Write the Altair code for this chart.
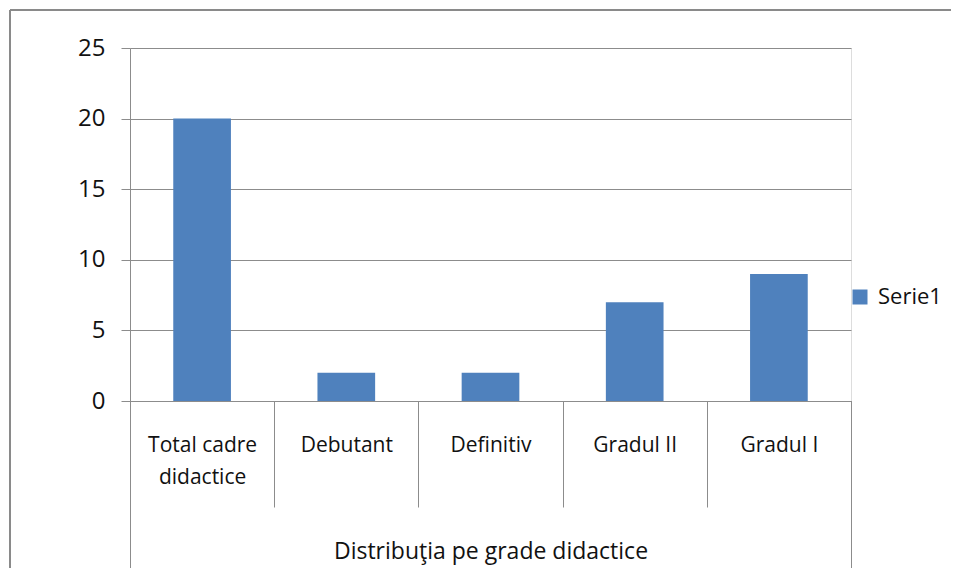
import altair as alt
import pandas as pd

categories = ["Total cadre didactice", "Debutant", "Definitiv", "Gradul II", "Gradul I"]
values = [20, 2, 2, 7, 9]
series_name = "Serie1"
group_title = "Distribuţia pe grade didactice"
y_ticks = [0, 5, 10, 15, 20, 25]

df = pd.DataFrame({"cat": categories, "val": values, "serie": [series_name] * len(categories)})

FONT = "Open Sans"
GRAY = "#8c8c8c"
TXT = "#111111"
W, H = 721, 353

xscale = alt.Scale(domain=categories, paddingInner=0, paddingOuter=0)

bars = alt.Chart(df).mark_bar(width=alt.RelativeBandSize(0.4), color="#4F81BD").encode(
    x=alt.X("cat:N", scale=xscale, sort=categories,
            axis=alt.Axis(title=group_title, labelAngle=0, tickBand="extent",
                          tickSize=106, tickColor=GRAY, domainColor=GRAY,
                          labelExpr="datum.label == 'Total cadre didactice' ? ['Total cadre', 'didactice'] : datum.label",
                          labelBaseline="alphabetic", labelPadding=-56, labelLineHeight=32,
                          labelFontSize=21, labelFont=FONT, labelColor=TXT,
                          titleFont=FONT, titleFontSize=23, titleFontWeight="normal",
                          titleColor=TXT, titleBaseline="alphabetic", titleY=157,
                          grid=False)),
    y=alt.Y("val:Q", scale=alt.Scale(domain=[0, 25]),
            axis=alt.Axis(title=None, values=y_ticks, tickSize=9, tickColor=GRAY,
                          domainColor=GRAY, gridColor=GRAY, grid=True,
                          labelPadding=16, labelFontSize=24, labelFont=FONT,
                          labelColor=TXT)),
    color=alt.Color("serie:N", scale=alt.Scale(domain=[series_name], range=["#4F81BD"]),
                    legend=alt.Legend(title=None, orient="none", legendX=719, legendY=238,
                                      symbolType="square", symbolSize=225,
                                      symbolStrokeWidth=0, labelFontSize=22,
                                      labelFont=FONT, labelColor=TXT, labelOffset=7,
                                      padding=0)),
)

one = pd.DataFrame({"k": [0]})
edge_left = alt.Chart(one).mark_rule(color=GRAY, strokeWidth=1).encode(
    x=alt.value(0.5), y=alt.value(H), y2=alt.value(H + 200))
edge_right = alt.Chart(one).mark_rule(color=GRAY, strokeWidth=1).encode(
    x=alt.value(W + 0.5), y=alt.value(H), y2=alt.value(H + 200))

frame_top = alt.Chart(one).mark_rule(color="#8a8a8a", strokeWidth=2).encode(
    x=alt.value(-120), x2=alt.value(W + 300), y=alt.value(-38))
frame_left = alt.Chart(one).mark_rule(color="#8a8a8a", strokeWidth=2).encode(
    x=alt.value(-120), y=alt.value(-38), y2=alt.value(H + 300))

chart = alt.layer(bars, edge_left, edge_right, frame_top, frame_left).properties(
    width=W, height=H,
    padding={"left": 122, "top": 40, "right": 100, "bottom": 167},
    autosize="none",
).configure_view(stroke=None).configure(background="white")

chart.save("out.html", embed_options={"renderer": "svg", "actions": False})
